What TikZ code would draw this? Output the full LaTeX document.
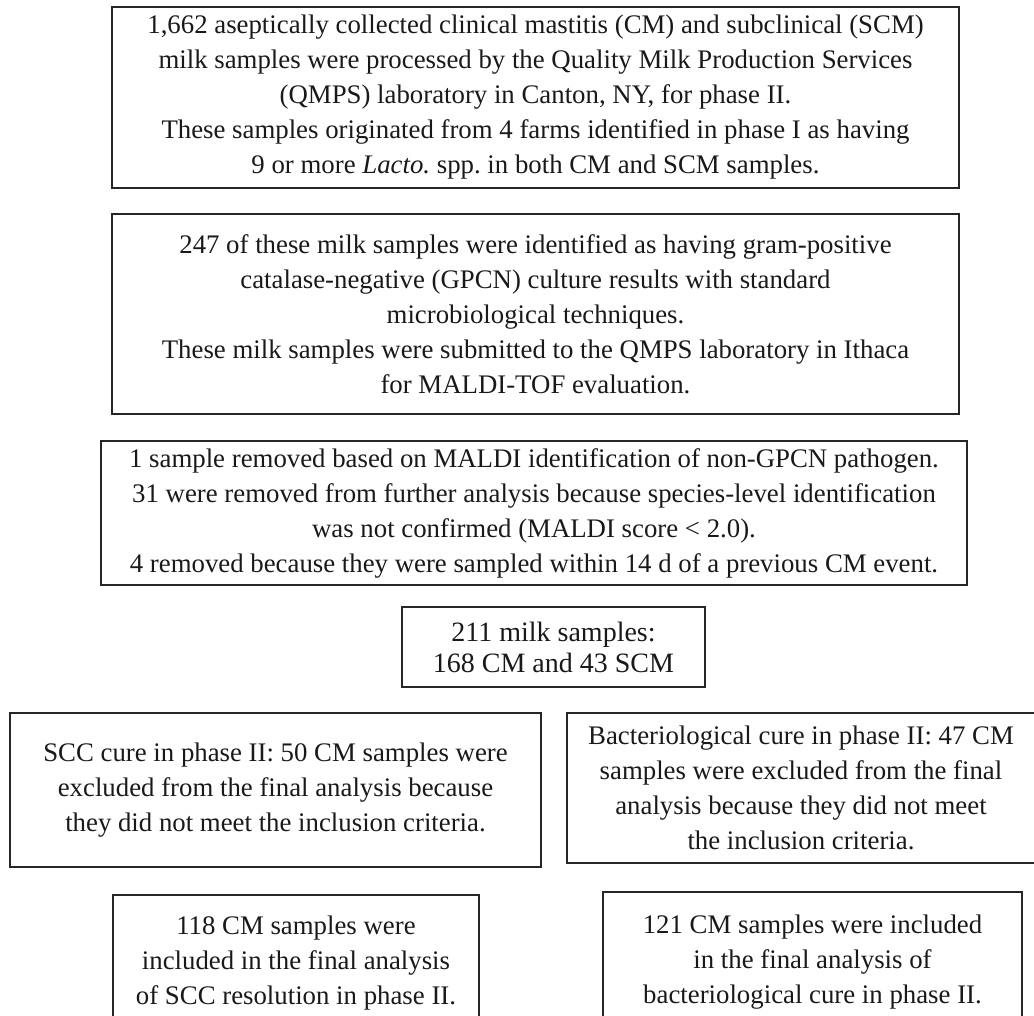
\documentclass[tikz,border=0pt]{standalone}
\usepackage{fontspec}
\setmainfont{Liberation Serif}
\usetikzlibrary{positioning}

\begin{document}
\begin{tikzpicture}[x=0.5pt,y=-0.5pt,
  box/.style={draw=black!85,line width=1pt,inner sep=0pt,align=center,
    text=black!90,font=\fontsize{13.4}{17.5}\selectfont}]
\clip (0,0) rectangle (1034,1016);
\node[box,minimum width=423.5pt,minimum height=90.5pt] (1) at (535.5,97.5)
  {1,662 aseptically collected clinical mastitis (CM) and subclinical (SCM)\\
   milk samples were processed by the Quality Milk Production Services\\
   (QMPS) laboratory in Canton, NY, for phase II.\\
   These samples originated from 4 farms identified in phase I as having\\
   9 or more {\itshape Lacto.}\ spp.\ in both CM and SCM samples.};
\node[box,minimum width=423.5pt,minimum height=100pt] (2) at (535.5,314)
  {247 of these milk samples were identified as having gram-positive\\
   catalase-negative (GPCN) culture results with standard\\
   microbiological techniques.\\
   These milk samples were submitted to the QMPS laboratory in Ithaca\\
   for MALDI-TOF evaluation.};
\node[box,minimum width=433pt,minimum height=72pt] (3) at (534,513)
  {1 sample removed based on MALDI identification of non-GPCN pathogen.\\
   31 were removed from further analysis because species-level identification\\
   was not confirmed (MALDI score < 2.0).\\
   4 removed because they were sampled within 14 d of a previous CM event.};
\node[box,minimum width=151.5pt,minimum height=40pt,
  font=\fontsize{14}{15.5}\selectfont] (4) at (553.5,647)
  {211 milk samples:\\ 168 CM and 43 SCM};
\node[box,minimum width=265.5pt,minimum height=77pt] (5) at (275.5,790)
  {SCC cure in phase II: 50 CM samples were\\
   excluded from the final analysis because\\
   they did not meet the inclusion criteria.};
\node[box,minimum width=234pt,minimum height=75pt] (6) at (801,788)
  {Bacteriological cure in phase II: 47 CM\\
   samples were excluded from the final\\
   analysis because they did not meet\\
   the inclusion criteria.};
\node[box,minimum width=183pt,minimum height=68pt] (7) at (296,963)
  {118 CM samples were\\
   included in the final analysis\\
   of SCC resolution in phase II.};
\node[box,minimum width=209.5pt,minimum height=70pt] (8) at (812.5,962)
  {121 CM samples were included\\
   in the final analysis of\\
   bacteriological cure in phase II.};
\end{tikzpicture}
\end{document}
